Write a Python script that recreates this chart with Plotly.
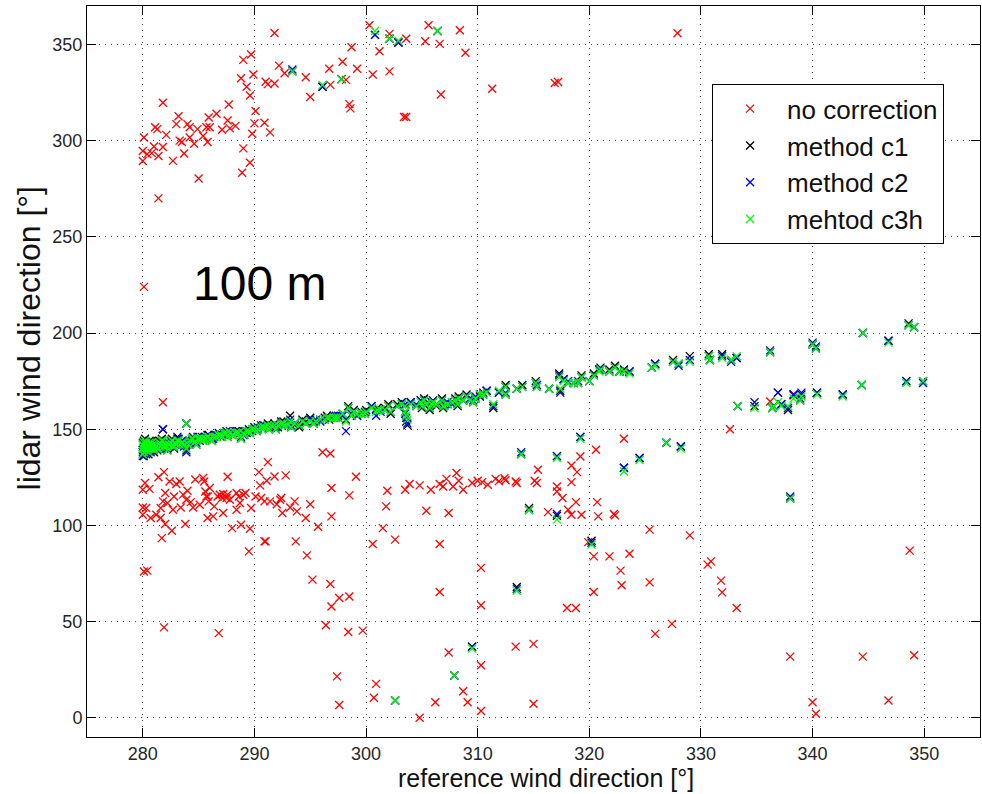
import plotly.graph_objects as go

# ---------------- data ----------------
# no correction (red)
ref_nocorr = [
    # upper cluster
    280.1, 280.0, 280.0, 280.4, 280.8, 281.0, 281.1, 281.3, 281.4, 281.4,
    281.8, 281.8, 282.1, 282.7, 283.0, 283.2, 283.3, 283.5, 283.7, 284.0,
    284.2, 284.2, 284.6, 284.9, 285.0, 285.4, 285.7, 285.8, 285.9, 286.0,
    286.6, 287.1, 287.6, 287.7, 287.8, 288.3, 288.8, 288.9, 289.0, 289.0,
    289.3, 289.6, 289.6, 289.7, 289.8, 289.9, 290.0, 290.1, 290.9, 291.0,
    291.2, 291.4, 291.8, 291.8, 292.2, 292.7, 294.6, 295.0, 296.7, 296.8,
    297.9, 298.2, 298.5, 298.6, 298.7, 299.2, 300.3, 300.6, 301.2, 302.1,
    302.1, 303.4, 303.6, 303.6, 305.3, 305.6, 306.6, 306.7, 308.4, 308.9,
    311.3, 316.9, 317.2, 327.9, 280.1,
    # lower band and scatter, 280-312
    280.0, 280.2, 280.6, 280.0, 280.0, 280.3, 280.7, 281.2, 281.4, 281.6,
    281.8, 281.9, 282.0, 281.6, 282.0, 281.7, 282.2, 282.4, 282.6, 282.7,
    282.8, 283.0, 283.3, 283.4, 283.6, 283.8, 283.9, 284.0, 284.3, 284.5,
    284.7, 285.1, 285.4, 285.5, 285.6, 285.7, 285.8, 285.9, 285.8, 286.0,
    286.3, 286.4, 286.7, 286.9, 287.1, 287.2, 287.5, 287.6, 287.8, 287.2,
    287.6, 288.0, 288.4, 288.4, 288.6, 288.7, 288.8, 289.0, 289.2, 289.6,
    289.7, 289.5, 290.1, 290.4, 290.5, 290.6, 290.9, 290.9, 291.0, 291.2,
    291.1, 291.4, 291.8, 292.0, 292.3, 292.4, 292.5, 292.8, 293.2, 293.6,
    293.7, 293.8, 294.6, 294.7, 295.0, 295.2, 295.7, 296.1, 296.8, 296.9,
    296.9, 296.4, 296.8, 296.9, 297.4, 297.6, 297.6, 298.5, 298.5, 298.4,
    299.1, 299.7, 300.6, 300.7, 300.9, 301.5, 301.8, 301.9, 302.6, 303.5,
    303.9, 304.8, 304.8, 305.4, 305.8, 306.2, 306.6, 306.6, 306.6, 306.9,
    307.2, 307.4, 307.4, 307.8, 308.1, 308.3, 308.7, 308.7, 309.1, 309.5,
    310.0, 310.3, 310.3, 310.3, 310.3, 310.4, 310.9, 311.6, 280.1, 280.4,
    281.9, 286.8, 281.8,
    # 311-350
    311.9, 312.4, 312.5, 313.4, 313.5, 315.1, 315.3, 315.4, 316.3, 317.1,
    317.1, 317.6, 318.1, 318.4, 318.4, 318.4, 318.8, 318.9, 319.2, 319.3,
    319.9, 320.4, 320.4, 320.6, 320.7, 320.8, 321.8, 322.2, 322.3, 322.8,
    322.9, 323.1, 323.6, 325.4, 325.4, 325.9, 327.4, 329.0, 330.6, 330.9,
    331.8, 331.9, 332.6, 333.2, 336.2, 338.3, 338.0, 340.0, 340.3, 344.5,
    346.8, 348.7, 349.1, 313.4, 315.0, 315.0, 318.0, 318.8,
]
lidar_nocorr = [
    301.6, 294.6, 289.4, 293.0, 293.5, 297.0, 307.0, 306.0, 292.0, 270.0,
    319.7, 296.7, 303.0, 289.5, 308.6, 312.7, 300.0, 299.3, 293.3, 308.6,
    307.0, 301.6, 298.4, 306.0, 280.3, 302.4, 307.0, 299.3, 312.0, 307.0,
    314.0, 305.7, 310.5, 318.8, 306.4, 307.7, 332.4, 283.3, 296.0, 342.0,
    328.0, 288.5, 323.5, 344.8, 303.6, 334.4, 309.0, 315.4, 309.3, 330.6,
    329.4, 304.3, 356.0, 329.7, 339.0, 335.0, 333.0, 322.7, 337.4, 329.0,
    341.0, 331.6, 319.0, 316.8, 348.6, 337.4, 360.0, 334.4, 346.5, 355.5,
    336.0, 312.3, 312.3, 353.0, 351.7, 360.0, 350.3, 324.0, 357.4, 345.7,
    327.0, 330.0, 330.5, 355.8, 224.0,
    118.5, 122.0, 119.0, 105.5, 109.3, 109.0, 103.8, 105.5, 125.0, 109.0,
    112.5, 127.7, 116.8, 103.8, 100.7, 93.4, 111.6, 122.8, 97.2, 108.1,
    115.0, 121.5, 122.8, 109.3, 116.0, 100.7, 113.3, 118.0, 112.1, 109.3,
    123.9, 110.7, 124.6, 122.8, 117.6, 115.0, 115.0, 112.5, 103.8, 119.4,
    104.7, 109.9, 115.0, 115.9, 114.2, 116.3, 114.2, 115.9, 113.3, 106.4,
    125.3, 98.6, 108.1, 116.8, 115.0, 111.6, 100.3, 115.9, 116.8, 98.3,
    109.0, 86.5, 115.0, 127.7, 120.8, 114.2, 112.5, 91.7, 91.7, 132.9,
    123.2, 112.5, 125.4, 111.0, 113.3, 114.2, 106.4, 126.0, 109.3, 112.5,
    91.7, 107.3, 103.8, 84.4, 111.0, 71.8, 99.3, 138.0, 137.4, 119.4,
    104.7, 48.1, 69.5, 57.8, 21.5, 6.6, 62.3, 115.6, 63.0, 44.6,
    125.3, 45.3, 90.3, 10.4, 17.6, 98.6, 109.9, 118.0, 92.6, 118.5,
    121.5, 120.8, 0.0, 107.6, 118.5, 8.1, 121.5, 90.3, 65.4, 120.2,
    124.2, 106.4, 33.9, 120.2, 127.2, 123.2, 118.5, 13.8, 8.1, 122.0,
    123.2, 77.9, 58.5, 27.3, 3.5, 122.5, 121.1, 124.2, 76.0, 76.5,
    47.0, 44.0, 164.0,
    123.0, 124.5, 123.5, 122.8, 122.0, 123.2, 122.0, 128.9, 106.9, 120.2,
    117.6, 114.2, 108.1, 131.1, 122.5, 105.5, 112.1, 127.7, 135.8, 105.5,
    91.3, 83.9, 65.4, 139.3, 112.1, 104.7, 83.9, 105.9, 105.2, 76.5,
    68.9, 145.0, 85.3, 97.8, 70.4, 43.6, 48.8, 94.8, 79.6, 81.3,
    71.3, 65.2, 150.0, 57.1, 164.4, 167.5, 31.8, 8.1, 2.1, 31.8,
    9.0, 86.9, 32.5, 37.0, 38.4, 7.3, 57.1, 57.1,
]

# corrected methods share the reference directions
ref_corr = [
    280.0, 280.0, 280.1, 280.1, 280.2, 280.3, 280.4, 280.5, 280.6, 280.7,
    280.8, 280.9, 281.0, 281.2, 281.3, 281.5, 281.6, 281.8, 282.0, 282.1,
    282.3, 282.5, 282.7, 282.9, 283.1, 283.3, 283.5, 283.7, 283.9, 283.9,
    284.2, 284.4, 284.6, 284.9, 285.1, 285.3, 285.6, 285.8, 286.0, 286.3,
    286.5, 286.8, 287.0, 287.3, 287.5, 287.8, 288.0, 288.3, 288.5, 288.8,
    289.0, 289.3, 289.5, 289.8, 290.0, 290.3, 290.6, 290.9, 291.2, 291.5,
    291.8, 292.1, 292.4, 292.7, 293.0, 293.2, 293.6, 294.0, 294.6, 295.0,
    295.5, 295.9, 296.3, 296.7, 297.1, 297.5, 297.9, 298.2, 298.4, 298.7,
    299.2, 299.6, 300.0, 300.5, 300.9, 301.3, 301.7, 302.2, 302.8, 303.2,
    303.5, 303.5, 303.6, 303.7, 304.0, 304.9, 305.0, 305.4, 305.7, 305.9,
    306.3, 306.8, 306.9, 307.3, 307.7, 308.2, 308.3, 308.7, 309.0, 309.3,
    309.6, 310.2, 310.8, 311.4, 311.9, 312.5, 312.5, 313.5, 314.0, 315.2,
    315.3, 316.4, 317.3, 317.4, 317.7, 318.1, 318.6, 319.0, 319.3, 320.0,
    320.4, 320.9, 321.0, 321.8, 322.3, 322.7, 323.1, 323.6,
    325.6, 325.9, 327.5, 328.0, 329.0, 330.7, 330.8, 331.9, 332.7, 333.2,
    336.2, 340.0, 340.3, 344.5, 346.8, 348.6, 349.1,
    333.3, 334.8, 336.4, 336.5, 336.9, 337.2, 337.8, 338.3, 338.9, 339.0,
    340.4, 342.7, 344.4, 348.4, 349.9,
    293.4, 296.1, 297.8, 300.8, 302.1, 302.9, 306.4, 302.6, 307.9, 309.5,
    313.5, 313.9, 314.6, 317.1, 317.1, 319.2, 320.2, 323.1, 324.5,
    326.9, 328.2, 338.0,
    # extra samples in the dense band
    280.0, 280.1, 280.2, 280.3, 280.5, 280.6, 280.8, 281.0, 281.1, 281.4,
    281.7, 281.9, 282.2, 282.4, 282.6, 282.8, 283.0, 283.2, 283.6, 284.1,
    284.5, 284.8, 285.0, 285.4, 285.9, 286.2, 286.6, 287.1, 287.6, 288.1,
    288.6, 289.1, 289.6, 290.2, 290.8, 291.3, 291.9, 292.6, 293.3, 294.3,
    295.3, 296.5, 297.3, 298.9, 299.9, 301.0, 302.0, 304.5, 305.2, 306.0,
    307.0, 308.0, 309.8, 310.5,
]
lidar_c1 = [
    139, 143, 137, 141, 145, 138, 142, 140, 144, 139,
    141, 143, 140, 142, 139, 144, 141, 150, 143, 140,
    142, 144, 141, 143, 146, 142, 144, 142, 153, 139,
    144, 145, 143, 145, 144, 146, 145, 147, 145, 146,
    147, 148, 146, 148, 149, 148, 147, 149, 148, 146,
    149, 148, 150, 149, 151, 150, 152, 151, 153, 152,
    153, 151, 154, 152, 153, 157, 152, 151, 154, 156,
    154, 155, 156, 155, 157, 156, 158, 155, 162, 157,
    157, 159, 160, 162, 160, 160, 161, 158, 163, 164,
    163, 159, 154, 152, 164, 165, 161, 163, 160, 164,
    162, 166, 161, 163, 164, 162, 167, 165, 168, 165,
    164, 167, 170, 161, 169, 173, 168, 171, 173, 175,
    172, 171, 179, 170, 176, 174, 174, 174, 178, 175,
    179, 181, 182, 181, 183, 180, 181, 180,
    182, 184, 186, 184, 188, 189, 186, 189, 186, 187,
    190, 194, 192, 200, 196, 205, 203,
    162, 162, 161, 162, 169, 163, 160, 168, 165, 168,
    169, 168, 173, 175, 175,
    336, 328, 332, 355, 353, 351, 357, 9, 22, 37,
    68, 137, 109, 136, 105, 146, 92, 130, 135,
    143, 141, 114,
    136, 144, 140, 143, 137, 141, 144, 138, 143, 140,
    145, 141, 139, 142, 145, 140, 143, 145, 143, 142,
    146, 142, 146, 144, 147, 144, 146, 147, 146, 148,
    149, 147, 148, 149, 152, 151, 150, 154, 151, 155,
    153, 157, 156, 160, 158, 161, 163, 162, 166, 165,
    162, 166, 166, 169,
]
lidar_c2 = [
    138, 142, 136, 140, 143, 137, 141, 141, 143, 138,
    140, 142, 141, 141, 140, 143, 142, 150, 142, 141,
    143, 143, 142, 142, 145, 143, 143, 141, 153, 138,
    143, 144, 144, 146, 145, 145, 146, 146, 146, 145,
    146, 147, 147, 147, 148, 149, 148, 148, 149, 145,
    147, 149, 149, 150, 150, 151, 151, 152, 152, 151,
    152, 152, 153, 153, 152, 155, 153, 152, 153, 155,
    155, 154, 155, 156, 156, 157, 157, 149, 161, 158,
    157, 158, 159, 162, 157, 159, 160, 159, 162, 163,
    163, 158, 156, 153, 164, 165, 162, 163, 161, 164,
    163, 165, 162, 164, 163, 163, 166, 165, 167, 166,
    165, 168, 170, 162, 169, 172, 169, 171, 172, 174,
    173, 171, 178, 169, 176, 175, 174, 175, 177, 175,
    178, 181, 181, 180, 182, 180, 180, 180,
    182, 184, 185, 183, 186, 188, 186, 188, 185, 187,
    191, 195, 193, 200, 196, 204, 203,
    162, 164, 161, 162, 169, 163, 161, 168, 166, 169,
    169, 168, 173, 175, 174,
    337, 328, 332, 355, 353, 351, 357, 9, 22, 37,
    67, 138, 108, 136, 106, 146, 91, 130, 135,
    143, 141, 115,
    137, 143, 141, 142, 138, 140, 143, 139, 142, 141,
    144, 140, 140, 141, 144, 141, 142, 144, 144, 143,
    145, 143, 145, 145, 146, 145, 147, 146, 147, 147,
    148, 148, 149, 150, 151, 150, 151, 153, 152, 154,
    154, 156, 157, 159, 159, 160, 162, 163, 165, 164,
    163, 165, 167, 168,
]
lidar_c3h = [
    140, 142, 138, 141, 144, 139, 141, 140, 143, 140,
    141, 142, 140, 141, 140, 143, 141, 144, 142, 141,
    142, 143, 141, 143, 144, 142, 143, 142, 153, 140,
    144, 145, 143, 145, 145, 145, 145, 146, 145, 146,
    146, 147, 147, 148, 148, 148, 147, 148, 148, 145,
    148, 149, 149, 150, 150, 150, 151, 151, 152, 152,
    152, 152, 153, 152, 152, 154, 153, 152, 153, 154,
    154, 155, 155, 156, 156, 156, 158, 154, 161, 157,
    158, 158, 159, 161, 159, 160, 160, 159, 162, 163,
    162, 159, 157, 155, 163, 164, 162, 163, 161, 163,
    163, 165, 162, 163, 164, 163, 166, 165, 167, 165,
    164, 168, 169, 163, 170, 172, 168, 171, 172, 174,
    172, 171, 177, 171, 175, 174, 174, 174, 177, 175,
    178, 180, 181, 180, 182, 180, 180, 179,
    182, 183, 185, 184, 185, 188, 186, 187, 186, 188,
    190, 194, 192, 200, 195, 204, 203,
    162, 161, 161, 162, 164, 162, 162, 166, 165, 167,
    168, 167, 173, 174, 175,
    336, 329, 332, 357, 353, 352, 357, 9, 22, 36,
    66, 137, 108, 135, 103, 145, 90, 128, 134,
    143, 140, 114,
    137, 143, 140, 143, 138, 141, 143, 139, 142, 140,
    144, 141, 139, 142, 144, 141, 142, 144, 143, 142,
    145, 142, 145, 144, 146, 144, 146, 146, 146, 147,
    148, 147, 148, 149, 151, 150, 150, 153, 151, 154,
    153, 156, 156, 159, 158, 160, 162, 162, 165, 164,
    162, 165, 166, 168,
]

assert len(ref_nocorr) == len(lidar_nocorr)
assert len(ref_corr) == len(lidar_c1) == len(lidar_c2) == len(lidar_c3h)

series = [
    ("no correction", ref_nocorr, lidar_nocorr, "#ff0000"),
    ("method c1", ref_corr, lidar_c1, "#000000"),
    ("method c2", ref_corr, lidar_c2, "#0000ff"),
    ("mehtod c3h", ref_corr, lidar_c3h, "#00ff00"),
]

x_ticks = [280, 290, 300, 310, 320, 330, 340, 350]
y_ticks = [0, 50, 100, 150, 200, 250, 300, 350]

FONT = "Liberation Sans, Arial, sans-serif"

fig = go.Figure()
for name, xs, ys, col in series:
    fig.add_trace(go.Scatter(
        x=xs, y=ys, mode="markers", name=name,
        marker=dict(symbol="x-thin", size=8, color=col,
                    line=dict(width=1.3, color=col)),
    ))

axis_common = dict(
    showline=True, linecolor="black", linewidth=1, mirror="ticks",
    ticks="inside", ticklen=9, tickcolor="black", tickwidth=1,
    showgrid=True, gridcolor="#444444", gridwidth=1, griddash="1px,5px",
    zeroline=False, tickfont=dict(family=FONT, size=18, color="#262626"),
)

fig.update_layout(
    width=982, height=794,
    margin=dict(l=87, r=2, t=6, b=57),
    paper_bgcolor="white", plot_bgcolor="white",
    font=dict(family=FONT, color="#111111"),
    xaxis=dict(range=[275, 355], tickvals=x_ticks, **axis_common),
    yaxis=dict(range=[-10, 370], tickvals=y_ticks, **axis_common),
    legend=dict(x=0.70, y=0.893, xanchor="left", yanchor="top",
                bgcolor="white", bordercolor="black", borderwidth=1,
                font=dict(family=FONT, size=26, color="#111111"),
                itemwidth=64, tracegroupgap=0),
    showlegend=True,
    annotations=[
        dict(x=290.45, y=226, xref="x", yref="y", text="100 m",
             showarrow=False, xanchor="center", yanchor="middle",
             font=dict(family=FONT, size=48, color="black")),
        dict(x=0.514, y=-0.056, xref="paper", yref="paper",
             text="reference wind direction [°]", showarrow=False,
             xanchor="center", yanchor="middle",
             font=dict(family=FONT, size=25, color="#111111")),
        dict(x=-0.0655, y=0.5445, xref="paper", yref="paper",
             text="lidar wind direction [°]", showarrow=False, textangle=-90,
             xanchor="center", yanchor="middle",
             font=dict(family=FONT, size=32, color="#111111")),
    ],
)

fig.write_html("out.html")
